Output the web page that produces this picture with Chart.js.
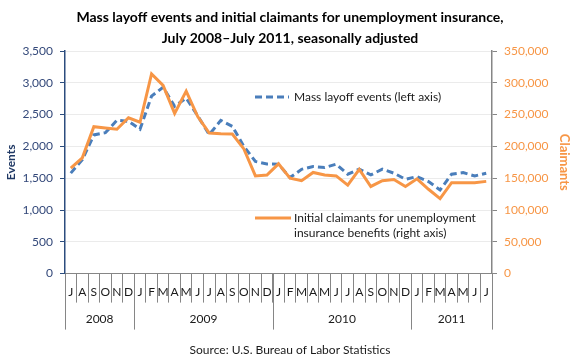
<!DOCTYPE html>
<html>
<head>
<meta charset="utf-8">
<script src="https://cdn.jsdelivr.net/npm/chart.js@4"></script>
<style>
	body { margin: 0; background: #fff; }
	#wrap { width: 580px; height: 363px; }
</style>
</head>
<body>
<div id="wrap"><canvas id="layoffs"></canvas></div>
<script>
const months = ["J", "A", "S", "O", "N", "D",
	"J", "F", "M", "A", "M", "J", "J", "A", "S", "O", "N", "D",
	"J", "F", "M", "A", "M", "J", "J", "A", "S", "O", "N", "D",
	"J", "F", "M", "A", "M", "J", "J"];
const yearLabels = ["2008", "2009", "2010", "2011"];
const yearStarts = [0, 6, 18, 30];

const layoffEvents = [1580, 1790, 2180, 2215, 2410, 2395,
	2270, 2790, 2930, 2630, 2760, 2480, 2185, 2410, 2315, 2000, 1763, 1725,
	1720, 1510, 1640, 1683, 1668, 1720, 1563, 1642, 1552, 1642, 1579, 1484,
	1525, 1447, 1315, 1563, 1588, 1536, 1579];
const initialClaimants = [166000, 182000, 231000, 229000, 227000, 245000,
	238000, 314000, 296000, 252000, 287000, 247000, 221000, 220000, 219500, 196000, 153600, 155000,
	172600, 150000, 146000, 159000, 155000, 153600, 139000, 164000, 137000, 146000, 148000, 137000,
	149000, 132600, 118000, 143000, 143000, 143000, 145000];

const eventTicks = [0, 3500, 500];
const claimantTicks = [0, 350000, 50000];

const FONT = "Lato";
const BLUE = "#4A7EBB";
const ORANGE = "#F79646";
const NAVY = "#2C4D7E";
const GREY = "#868686";

const fmt = (v) => new Intl.NumberFormat("en-US").format(v);

// year row below the month letters + legend inside the plot
const extras = {
	id: "extras",
	afterDraw(chart) {
		const { ctx, chartArea } = chart;
		const x = chart.scales.x;
		const step = x.getPixelForValue(1) - x.getPixelForValue(0);
		const top = chartArea.bottom;
		ctx.save();
		ctx.strokeStyle = GREY;
		ctx.lineWidth = 1;
		ctx.fillStyle = "#1a1a1a";
		ctx.font = "12px " + FONT;
		ctx.textAlign = "center";
		ctx.textBaseline = "middle";
		yearStarts.forEach((start, i) => {
			const end = i + 1 < yearStarts.length ? yearStarts[i + 1] : months.length;
			const x0 = x.getPixelForValue(start) - step / 2;
			const x1 = x.getPixelForValue(end - 1) + step / 2;
			ctx.beginPath();
			ctx.moveTo(Math.round(x0) + 0.5, top);
			ctx.lineTo(Math.round(x0) + 0.5, top + 56);
			if (i === yearStarts.length - 1) {
				ctx.moveTo(Math.round(x1) + 0.5, top);
				ctx.lineTo(Math.round(x1) + 0.5, top + 56);
			}
			ctx.stroke();
			ctx.fillText(yearLabels[i], (x0 + x1) / 2, top + 46);
		});

		// legend
		ctx.textAlign = "left";
		ctx.lineWidth = 3;
		ctx.strokeStyle = BLUE;
		ctx.setLineDash([7, 4]);
		ctx.beginPath();
		ctx.moveTo(255, 97);
		ctx.lineTo(289, 97);
		ctx.stroke();
		ctx.setLineDash([]);
		ctx.fillText("Mass layoff events (left axis)", 294, 97);
		ctx.strokeStyle = ORANGE;
		ctx.beginPath();
		ctx.moveTo(255, 218);
		ctx.lineTo(291, 218);
		ctx.stroke();
		ctx.fillText("Initial claimants for unemployment", 294, 218);
		ctx.fillText("insurance benefits (right axis)", 294, 233);
		ctx.restore();
	}
};

new Chart(document.querySelector("#layoffs"), {
	type: "line",
	data: {
		labels: months,
		datasets: [{
			label: "Mass layoff events (left axis)",
			data: layoffEvents,
			yAxisID: "y",
			borderColor: BLUE,
			borderWidth: 3,
			borderDash: [7, 4],
			pointRadius: 0,
			tension: 0,
			order: 2
		}, {
			label: "Initial claimants for unemployment insurance benefits (right axis)",
			data: initialClaimants,
			yAxisID: "y2",
			borderColor: ORANGE,
			borderWidth: 3,
			pointRadius: 0,
			tension: 0,
			order: 1
		}]
	},
	options: {
		responsive: true,
		maintainAspectRatio: false,
		animation: false,
		layout: { padding: 0 },
		plugins: {
			legend: { display: false },
			tooltip: { enabled: false },
			title: {
				display: true,
				text: ["Mass layoff events and initial claimants for unemployment insurance,",
					"July 2008\u2013July 2011, seasonally adjusted"],
				color: "#000",
				font: { family: FONT, size: 14, weight: "bold", lineHeight: 1.5 },
				padding: { top: 7, bottom: 2 }
			},
			subtitle: {
				display: true,
				position: "bottom",
				text: "Source: U.S. Bureau of Labor Statistics",
				color: "#1a1a1a",
				font: { family: FONT, size: 12, lineHeight: 1.2 },
				padding: { top: 5, bottom: 6 }
			}
		},
		scales: {
			x: {
				offset: true,
				border: { color: GREY, width: 1 },
				grid: { offset: true, drawOnChartArea: false, tickLength: 29, color: GREY },
				ticks: {
					autoSkip: false, maxRotation: 0, padding: -18,
					color: "#1a1a1a", font: { family: FONT, size: 12 }
				},
				afterFit: (s) => { s.height = 64; }
			},
			y: {
				position: "left",
				min: eventTicks[0],
				max: eventTicks[1],
				border: { color: NAVY, width: 1.5 },
				grid: { color: "#EBEBEB", tickColor: NAVY, tickLength: 5 },
				ticks: {
					stepSize: eventTicks[2], padding: 7, color: "#34497A",
					font: { family: FONT, size: 12 },
					callback: (v) => fmt(v)
				},
				title: {
					display: true, text: "Events", color: "#1F3864",
					font: { family: FONT, size: 12, weight: "bold" },
					padding: { top: 4, bottom: 0 }
				},
				afterFit: (s) => { s.width = 65; }
			},
			y2: {
				position: "right",
				min: claimantTicks[0],
				max: claimantTicks[1],
				border: { color: GREY, width: 1.5 },
				grid: { drawOnChartArea: false, tickColor: GREY, tickLength: 5 },
				ticks: {
					stepSize: claimantTicks[2], padding: 7, color: ORANGE,
					font: { family: FONT, size: 12 },
					callback: (v) => fmt(v)
				},
				title: {
					display: true, text: "Claimants", color: ORANGE,
					font: { family: FONT, size: 13, weight: "bold" },
					padding: { top: 8, bottom: 0 }
				},
				afterFit: (s) => { s.width = 88; }
			}
		}
	},
	plugins: [extras]
});
</script>
</body>
</html>
